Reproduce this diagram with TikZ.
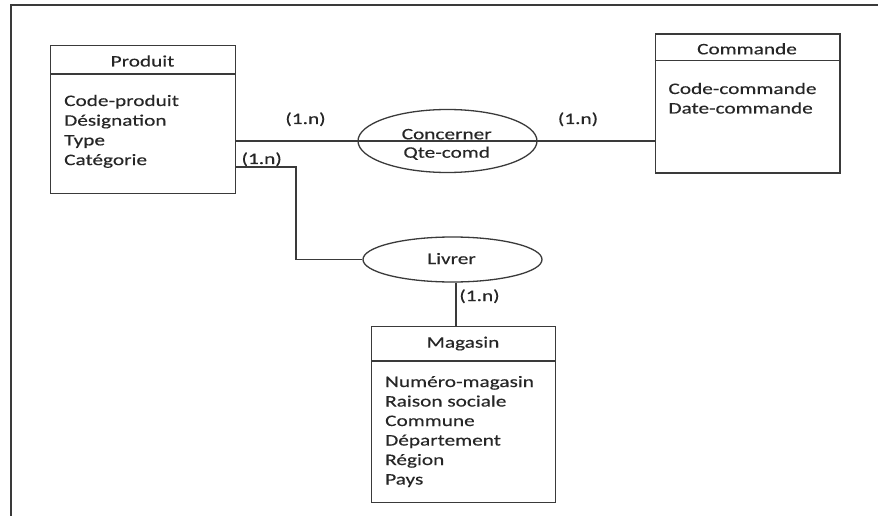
\documentclass[tikz,border=0pt]{standalone}
\usepackage{fontspec}
\setmainfont{Carlito}[FakeStretch=1.33,FakeBold=0.35]
\usetikzlibrary{shapes.geometric}
\definecolor{ink}{HTML}{262626}
\definecolor{edge}{HTML}{3A3A3A}
\begin{document}
\begin{tikzpicture}[x=1pt,y=-1pt,
  font=\fontsize{16}{20}\selectfont, text=ink,
  entity/.style={draw=edge, line width=1.4pt, rectangle, inner sep=0pt, anchor=north west},
  relation/.style={draw=edge, line width=1.3pt, ellipse, inner sep=0pt},
  txt/.style={inner sep=0pt, anchor=base},
  attr/.style={inner sep=0pt, anchor=base west},
  link/.style={draw=edge, line width=1.3pt},
  frameline/.style={draw=edge, line width=2pt},
]
\useasboundingbox (0,0) rectangle (878,516);

% outer frame (top and left edges)
\coordinate (fbl) at (11,516);
\coordinate (ftl) at (11,5);
\coordinate (ftr) at (878,5);
\draw[frameline] (fbl) -- (ftl) -- (ftr);

% ---------- entity Produit ----------
\node[entity, minimum width=185pt, minimum height=148pt] (produit) at (50,45) {};
\draw[link] (produit.west |- 0,74) -- (produit.east |- 0,74);
\node[txt] (produitT) at (142.5,66.5) {Produit};
\node[attr] (p1) at (64,106) {Code-produit};
\node[attr] (p2) at (64,125.7) {Désignation};
\node[attr] (p3) at (64,145.4) {Type};
\node[attr] (p4) at (64,165.1) {Catégorie};

% ---------- entity Commande ----------
\node[entity, minimum width=184.5pt, minimum height=139pt] (commande) at (654.7,33.3) {};
\draw[link] (commande.west |- 0,60.7) -- (commande.east |- 0,60.7);
\node[txt] (commandeT) at (747,54.3) {Commande};
\node[attr] (c1) at (668.3,94) {Code-commande};
\node[attr] (c2) at (668.3,113.5) {Date-commande};

% ---------- entity Magasin ----------
\node[entity, minimum width=184pt, minimum height=176pt] (magasin) at (371,326) {};
\draw[link] (magasin.west |- 0,361) -- (magasin.east |- 0,361);
\node[txt] (magasinT) at (463,347.7) {Magasin};
\node[attr] (m1) at (385,387) {Numéro-magasin};
\node[attr] (m2) at (385,406.5) {Raison sociale};
\node[attr] (m3) at (385,426) {Commune};
\node[attr] (m4) at (385,445.5) {Département};
\node[attr] (m5) at (385,465) {Région};
\node[attr] (m6) at (385,484.5) {Pays};

% ---------- association Concerner ----------
\node[relation, minimum width=179pt, minimum height=63pt] (concerner) at (447.5,141) {};
\draw[link] (concerner.west) -- (concerner.east);
\node[txt] (concernerT) at (446.7,139.3) {Concerner};
\node[txt] (qte) at (446.7,157.7) {Qte-comd};

% ---------- association Livrer ----------
\node[relation, minimum width=179pt, minimum height=45pt] (livrer) at (452.5,259.5) {};
\node[txt] (livrerT) at (451.5,264) {Livrer};

% ---------- connectors ----------
\draw[link] (produit.east |- concerner.west) -- (concerner.west);
\draw[link] (concerner.east) -- (commande.west |- concerner.east);
\coordinate (bendA) at (296,167);
\coordinate (bendB) at (296,259.5);
\draw[link] (produit.east |- bendA) -- (bendA) -- (bendB) -- (livrer.west);
\draw[link] ([xshift=3.5pt]livrer.south) -- ([xshift=3.5pt]livrer.south |- magasin.north);

% cardinalities
\node[txt] (card1) at (305.5,124) {(1.n)};
\node[txt] (card2) at (578,124) {(1.n)};
\node[txt] (card3) at (261.7,164) {(1.n)};
\node[txt] (card4) at (479.5,301) {(1.n)};
\end{tikzpicture}
\end{document}
